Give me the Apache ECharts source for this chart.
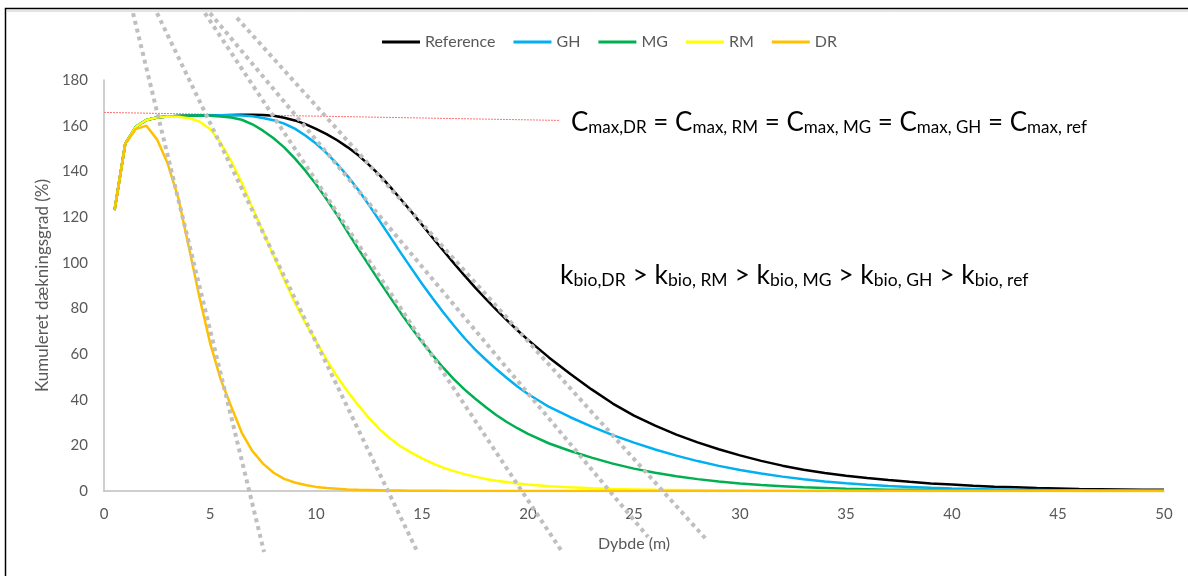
<!DOCTYPE html>
<html>
<head>
<meta charset="utf-8">
<title>Kumuleret dækningsgrad</title>
<script src="https://cdn.jsdelivr.net/npm/echarts@6/dist/echarts.min.js"></script>
<style>
html, body { margin: 0; padding: 0; background: #fff; }
#chart { width: 1188px; height: 576px; }
</style>
</head>
<body>
<div id="chart"></div>
<script>
// dybde (m) - same depths for all five curves
const depths = [
    0.5, 1, 1.5, 2, 2.5, 3, 3.5, 4, 4.5, 5, 5.5, 6, 6.5, 7, 7.5, 8, 8.5, 9, 9.5, 10,
    10.5, 11, 11.5, 12, 12.5, 13, 13.5, 14, 14.5, 15, 15.5, 16, 16.5, 17, 17.5, 18, 18.5, 19, 19.5, 20,
    21, 22, 23, 24, 25, 26, 27, 28, 29, 30, 31, 32, 33, 34, 35, 36, 37, 38, 39, 40,
    41, 42, 43, 44, 45, 46, 47, 48, 49, 50
]

const refValues = [
    123, 152, 159.5, 162.5, 163.6, 164, 164.2, 164.3, 164.4, 164.5, 164.6, 164.7, 164.8, 164.8, 164.7, 164.3, 163.5, 162.3, 160.7, 158.6,
    156.3, 153.6, 150.5, 147, 142.8, 138.3, 133.2, 127.8, 122.3, 116.6, 110.9, 105.3, 99.8, 94.4, 89.2, 84.2, 79.4, 74.8, 70.4, 66.2,
    58.4, 51.2, 44.5, 38.3, 33, 28.6, 24.7, 21.3, 18.3, 15.6, 13.2, 11.1, 9.3, 7.9, 6.7, 5.7, 4.8, 4, 3.3, 2.8,
    2.3, 1.9, 1.6, 1.3, 1.1, 0.9, 0.8, 0.7, 0.6, 0.5
]
const ghValues = [
    123, 152, 159.5, 162.5, 163.6, 164, 164.2, 164.3, 164.4, 164.5, 164.6, 164.6, 164.5, 164.1, 163.4, 162.4, 160.9, 158.7, 155.7, 152.2,
    148, 143.2, 137.8, 131.8, 125.2, 118.3, 111.3, 104.3, 97.5, 90.8, 84.4, 78.3, 72.5, 67, 62, 57.6, 53.4, 49.5, 45.8, 42.5,
    36.8, 32.3, 28.2, 24.5, 21.2, 18.2, 15.5, 13.1, 11, 9.2, 7.7, 6.3, 5.1, 4.2, 3.4, 2.7, 2.2, 1.8, 1.4, 1.1,
    0.9, 0.7, 0.5, 0.4, 0.3, 0.3, 0.2, 0.2, 0.1, 0.1
]
const mgValues = [
    123, 152, 159.5, 162.5, 163.6, 164, 164.2, 164.3, 164.4, 164.3, 164, 163.6, 162.6, 160.6, 157.8, 154.5, 150.5, 145.7, 140.3, 134.3,
    127.8, 120.8, 113.3, 106, 98.8, 91.7, 84.8, 78, 71.5, 65.3, 59.5, 54, 49, 44.5, 40.5, 36.8, 33.3, 30.2, 27.5, 25,
    20.8, 17.5, 14.6, 12, 9.8, 8, 6.5, 5.2, 4.2, 3.3, 2.6, 2.1, 1.6, 1.3, 1, 0.8, 0.6, 0.5, 0.4, 0.3,
    0.2, 0.2, 0.1, 0.1, 0.1, 0, 0, 0, 0, 0
]
const rmValues = [
    123, 152, 159.5, 162.5, 163.6, 164, 163.9, 163.3, 161.8, 158.5, 152.5, 144.5, 135, 124, 113.5, 103, 92.5, 82.5, 73.5, 65.5,
    57.5, 50, 43.5, 37.5, 32, 27, 23, 19.5, 16.8, 14.3, 12.1, 10.2, 8.7, 7.4, 6.3, 5.3, 4.5, 3.9, 3.3, 2.8,
    2.1, 1.6, 1.2, 0.9, 0.7, 0.5, 0.4, 0.3, 0.2, 0.2, 0.1, 0.1, 0, 0, 0, 0, 0, 0, 0, 0,
    0, 0, 0, 0, 0, 0, 0, 0, 0, 0
]
const drValues = [
    123, 152, 158.5, 160, 154, 143.5, 128.5, 107, 85, 65, 49, 37, 25.5, 17.5, 12, 8, 5.3, 3.7, 2.6, 1.8,
    1.3, 1, 0.7, 0.5, 0.4, 0.3, 0.2, 0.2, 0.1, 0.1, 0.1, 0.1, 0, 0, 0, 0, 0, 0, 0, 0,
    0, 0, 0, 0, 0, 0, 0, 0, 0, 0, 0, 0, 0, 0, 0, 0, 0, 0, 0, 0,
    0, 0, 0, 0, 0, 0, 0, 0, 0, 0
]

// tangent lines (gray dotted), start / end in axis units
const tangentDR = [[1.37, 209.3], [7.55, -26.7]]
const tangentRM = [[2.5, 209.3], [14.81, -27.2]]
const tangentMG = [[4.76, 209.3], [21.65, -27.2]]
const tangentGH = [[5.0, 209.3], [25.66, -20.1]]
const tangentRef = [[6.27, 207.2], [28.44, -21.5]]
// Cmax line (red dotted)
const cmaxLine = [[0, 165.8], [21.5, 162.3]]

const seriesNames = ['Reference', 'GH', 'MG', 'RM', 'DR']
const seriesColors = ['#000000', '#00b0f0', '#00b050', '#ffff00', '#ffc000']
const seriesValues = [refValues, ghValues, mgValues, rmValues, drValues]

const xTicks = { min: 0, max: 50, interval: 5 }
const yTicks = { min: 0, max: 180, interval: 20 }

const cmaxSubs = ['max,DR', 'max, RM', 'max, MG', 'max, GH', 'max, ref']
const kbioSubs = ['bio,DR', 'bio, RM', 'bio, MG', 'bio, GH', 'bio, ref']

const fontName = 'Lato, "Open Sans", sans-serif'
const grayText = '#595959'

const pairUp = (vals) => depths.map((d, i) => [d, vals[i]])

const richFormula = (letter, subs, op) => {
    let parts = subs.map((s) => '{m|' + letter + '}{s|' + s + '}')
    return parts.join('{m| ' + op + ' }')
}

const richStyle = (big, small) => ({
    m: { fontSize: big, fontFamily: fontName, fill: '#000', verticalAlign: 'bottom' },
    s: { fontSize: small, fontFamily: fontName, fill: '#000', verticalAlign: 'bottom' }
})

let curveSeries = seriesNames.map((name, i) => ({
    name: name,
    type: 'line',
    data: pairUp(seriesValues[i]),
    symbol: 'none',
    lineStyle: { color: seriesColors[i], width: 2.5 },
    itemStyle: { color: seriesColors[i] },
    z: 2
}))

let tangentSeries = [tangentDR, tangentRM, tangentMG, tangentGH, tangentRef].map((pts, i) => ({
    name: 'tangent' + i,
    type: 'line',
    data: pts,
    symbol: 'none',
    clip: false,
    silent: true,
    lineStyle: { color: '#bfbfbf', width: 4, type: [4, 4] },
    z: 4
}))

let cmaxSeries = {
    name: 'cmax',
    type: 'line',
    data: cmaxLine,
    symbol: 'none',
    silent: true,
    lineStyle: { color: '#ff7070', width: 1, type: [2, 1] },
    z: 1
}

const option = {
    animation: false,
    backgroundColor: '#ffffff',
    textStyle: { fontFamily: fontName },
    legend: {
        data: seriesNames,
        top: 29,
        left: 377,
        icon: 'rect',
        itemWidth: 38,
        itemHeight: 3,
        itemGap: 18,
        textStyle: { color: grayText, fontSize: 16, fontFamily: fontName }
    },
    grid: {
        left: 104,
        right: 24,
        top: 80,
        bottom: 85
    },
    xAxis: {
        type: 'value',
        min: xTicks.min,
        max: xTicks.max,
        interval: xTicks.interval,
        name: 'Dybde (m)',
        nameLocation: 'middle',
        nameGap: 45,
        nameTextStyle: { color: grayText, fontSize: 16, fontFamily: fontName },
        axisLine: { show: true, lineStyle: { color: '#bfbfbf', width: 1.5 } },
        axisTick: { show: false },
        splitLine: { show: false },
        axisLabel: { color: grayText, fontSize: 15, margin: 16, fontFamily: fontName }
    },
    yAxis: {
        type: 'value',
        min: yTicks.min,
        max: yTicks.max,
        interval: yTicks.interval,
        name: 'Kumuleret dækningsgrad (%)',
        nameLocation: 'middle',
        nameGap: 51,
        nameTextStyle: { color: grayText, fontSize: 17, fontFamily: fontName },
        axisLine: { show: true, lineStyle: { color: '#bfbfbf', width: 1.5 } },
        axisTick: { show: false },
        splitLine: { show: false },
        axisLabel: { color: grayText, fontSize: 15, margin: 16, fontFamily: fontName }
    },
    graphic: [
        {
            type: 'polyline',
            silent: true,
            shape: { points: [[5.5, 576], [5.5, 8.5], [1188, 8.5]] },
            style: { stroke: '#000', lineWidth: 1.5, fill: null }
        },
        {
            type: 'polyline',
            silent: true,
            shape: { points: [[7, 11], [1188, 11]] },
            style: { stroke: '#c8c8c8', lineWidth: 1, fill: null }
        },
        {
            type: 'text',
            left: 571,
            top: 110,
            silent: true,
            style: {
                text: richFormula('C', cmaxSubs, '='),
                rich: richStyle(26, 17)
            }
        },
        {
            type: 'text',
            left: 560,
            top: 262,
            silent: true,
            style: {
                text: richFormula('k', kbioSubs, '>'),
                rich: richStyle(26.5, 17.5)
            }
        }
    ],
    series: [cmaxSeries].concat(curveSeries, tangentSeries)
}

let myChart = echarts.init(document.getElementById('chart'))
myChart.setOption(option)
</script>
</body>
</html>
